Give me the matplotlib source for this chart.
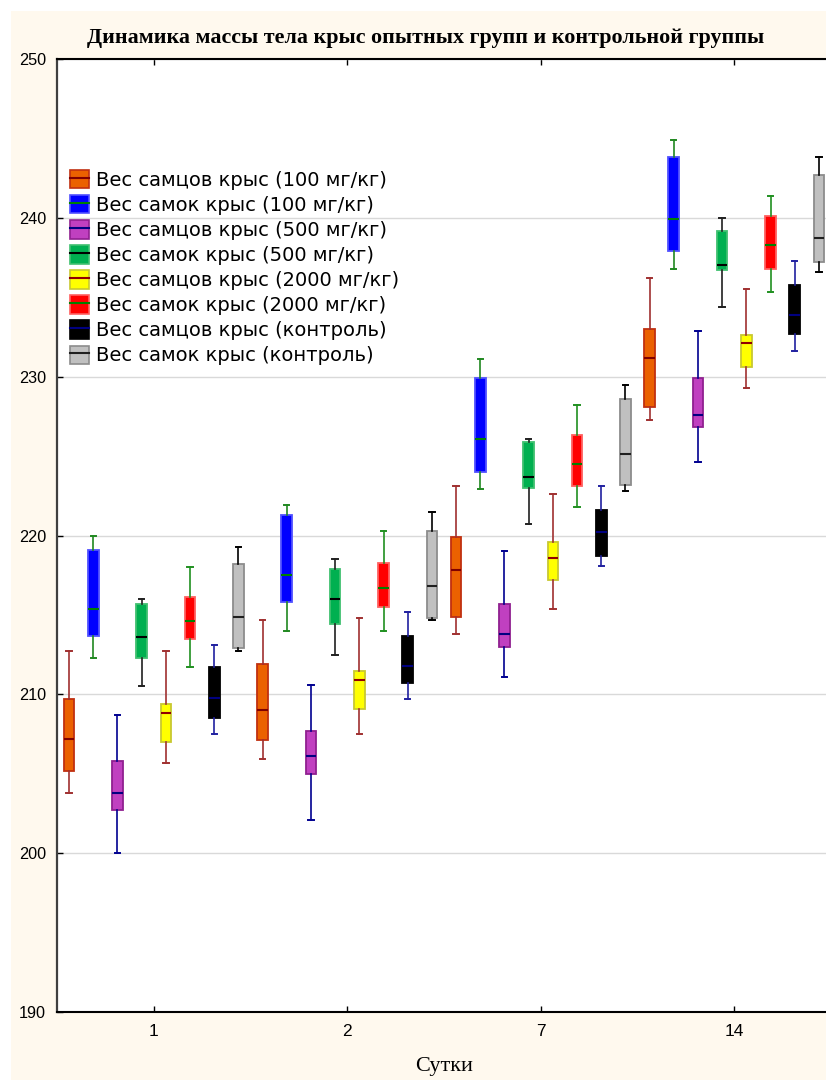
import matplotlib
matplotlib.use("Agg")
import matplotlib.pyplot as plt
from matplotlib.patches import Rectangle
from matplotlib.lines import Line2D
from matplotlib.legend_handler import HandlerTuple

# ---------------- data ----------------
days = ["1", "2", "7", "14"]
series_labels = [
    "Вес самцов крыс (100 мг/кг)",
    "Вес самок крыс (100 мг/кг)",
    "Вес самцов крыс (500 мг/кг)",
    "Вес самок крыс (500 мг/кг)",
    "Вес самцов крыс (2000 мг/кг)",
    "Вес самок крыс (2000 мг/кг)",
    "Вес самцов крыс (контроль)",
    "Вес самок крыс (контроль)",
]
# per series, per day (1, 2, 7, 14)
whisker_low = [
    [203.8, 205.9, 213.8, 227.3],
    [212.3, 214.0, 222.9, 236.8],
    [200.0, 202.1, 211.1, 224.6],
    [210.5, 212.5, 220.7, 234.4],
    [205.7, 207.5, 215.4, 229.3],
    [211.7, 214.0, 221.8, 235.3],
    [207.5, 209.7, 218.1, 231.6],
    [212.7, 214.7, 222.8, 236.6],
]
quart1 = [
    [205.2, 207.1, 214.9, 228.1],
    [213.7, 215.8, 224.0, 237.9],
    [202.7, 205.0, 213.0, 226.8],
    [212.3, 214.4, 223.0, 236.7],
    [207.0, 209.1, 217.2, 230.6],
    [213.5, 215.5, 223.1, 236.8],
    [208.5, 210.7, 218.7, 232.7],
    [212.9, 214.8, 223.2, 237.2],
]
medians = [
    [207.2, 209.0, 217.8, 231.2],
    [215.4, 217.5, 226.1, 239.9],
    [203.8, 206.1, 213.8, 227.6],
    [213.6, 216.0, 223.7, 237.0],
    [208.8, 210.9, 218.6, 232.1],
    [214.6, 216.7, 224.5, 238.3],
    [209.8, 211.8, 220.2, 233.9],
    [214.9, 216.8, 225.1, 238.7],
]
quart3 = [
    [209.7, 211.9, 219.9, 233.0],
    [219.1, 221.3, 229.9, 243.8],
    [205.8, 207.7, 215.7, 229.9],
    [215.7, 217.9, 225.9, 239.2],
    [209.4, 211.5, 219.6, 232.6],
    [216.1, 218.3, 226.3, 240.1],
    [211.7, 213.7, 221.6, 235.8],
    [218.2, 220.3, 228.6, 242.7],
]
whisker_high = [
    [212.7, 214.7, 223.1, 236.2],
    [220.0, 221.9, 231.1, 244.9],
    [208.7, 210.6, 219.0, 232.9],
    [216.0, 218.5, 226.1, 240.0],
    [212.7, 214.8, 222.6, 235.5],
    [218.0, 220.3, 228.2, 241.4],
    [213.1, 215.2, 223.1, 237.3],
    [219.3, 221.5, 229.5, 243.8],
]

# ---------------- styles ----------------
face_colors = ['#EB6100', '#0000FF', '#C040C0', '#00B050', '#FFFF00', '#FF0000', '#000000', '#C0C0C0']
edge_colors = ['#C03010', '#5050FF', '#902090', '#40C070', '#C8C830', '#FF6060', '#000000', '#8C8C8C']
median_colors = ['#800000', '#008000', '#000080', '#000000', '#900000', '#008000', '#000080', '#202020']
whisker_colors = ['#A03030', '#208820', '#000090', '#202020', '#A03030', '#209020', '#2020A0', '#000000']

W, H = 826, 1080
fig = plt.figure(figsize=(W / 100, H / 100), dpi=100, facecolor='white')
fig.patches.append(Rectangle((11 / W, 0), 1 - 11 / W, 1 - 11 / H, transform=fig.transFigure,
                             facecolor='#FFF9EE', edgecolor='none', zorder=-10))

ax_left, ax_right, ax_top, ax_bottom = 57, 831, 59, 1012
ax = fig.add_axes([ax_left / W, (H - ax_bottom) / H, (ax_right - ax_left) / W, (ax_bottom - ax_top) / H])
ax.set_facecolor('white')

n_series = len(series_labels)
box_w = 0.055
for s in range(n_series):
    stats = []
    positions = []
    for d in range(len(days)):
        stats.append(dict(med=medians[s][d], q1=quart1[s][d], q3=quart3[s][d],
                          whislo=whisker_low[s][d], whishi=whisker_high[s][d], fliers=[]))
        positions.append(d + (s - (n_series - 1) / 2) / n_series)
    ax.bxp(stats, positions=positions, widths=box_w, capwidths=0.028, patch_artist=True,
           showfliers=False, manage_ticks=False,
           boxprops=dict(facecolor=face_colors[s], edgecolor=edge_colors[s], linewidth=1.3),
           medianprops=dict(color=median_colors[s], linewidth=1.5),
           whiskerprops=dict(color=whisker_colors[s], linewidth=1.2),
           capprops=dict(color=whisker_colors[s], linewidth=1.4))

ax.set_xlim(-0.5, len(days) - 0.5)
ax.set_ylim(190, 250)
ax.set_xticks(range(len(days)))
ax.set_xticklabels(days)
ax.set_yticks([190, 200, 210, 220, 230, 240, 250])
ax.yaxis.grid(True, color='#D9D9D9', linewidth=1.0)
ax.set_axisbelow(True)
ax.tick_params(axis='x', direction='in', length=4, width=1, top=True, bottom=True, pad=9,
               labelsize=12.5)
ax.tick_params(axis='y', direction='in', length=4, width=1, left=True, right=False, pad=8,
               labelsize=11.7)
for lab in ax.get_xticklabels() + ax.get_yticklabels():
    lab.set_fontfamily(['Liberation Sans', 'DejaVu Sans'])
for sp in ['top', 'bottom']:
    ax.spines[sp].set_color('black')
    ax.spines[sp].set_linewidth(1.5)
ax.spines['left'].set_color('#404040')
ax.spines['left'].set_linewidth(1.6)

# legend
handles = []
for s in range(n_series):
    p = Rectangle((0, 0), 1, 1, facecolor=face_colors[s], edgecolor=edge_colors[s], linewidth=1.2)
    l = Line2D([], [], color=median_colors[s], linewidth=1.5)
    handles.append((p, l))
leg = ax.legend(handles, series_labels, handler_map={tuple: HandlerTuple(ndivide=1)},
                loc='upper left', bbox_to_anchor=(70 / W, 1 - 170 / H), bbox_transform=fig.transFigure,
                frameon=False, borderpad=0, borderaxespad=0, handlelength=0.98, handleheight=1.08,
                handletextpad=0.36, labelspacing=0.27,
                prop=dict(family=['DejaVu Sans'], size=14))

fig.text(426 / W, 1 - 38 / H, "Динамика массы тела крыс опытных групп и контрольной группы",
         ha='center', va='center', fontsize=15.8, fontweight='bold',
         family=['Liberation Serif', 'DejaVu Serif'])
fig.text(444 / W, 1 - 1066 / H, "Сутки", ha='center', va='center', fontsize=16,
         family=['Liberation Serif', 'DejaVu Serif'])

fig.savefig('out.png', dpi=100, facecolor=fig.get_facecolor())
